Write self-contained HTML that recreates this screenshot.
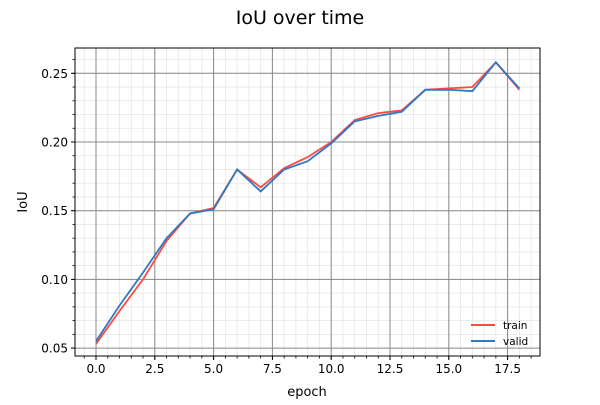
<!DOCTYPE html>
<html><head><meta charset="utf-8"><style>
body{margin:0;background:#fff;font-family:"Liberation Sans","DejaVu Sans",sans-serif;}
</style></head><body>
<svg id="chart" width="600" height="400" xmlns="http://www.w3.org/2000/svg" font-family="DejaVu Sans, Liberation Sans, sans-serif">
<rect width="600" height="400" fill="#fff"/>
<text x="300" y="24" text-anchor="middle" font-size="19">IoU over time</text>
<g id="grid"></g><g id="series"></g><g id="axes"></g>
<text x="307" y="396" text-anchor="middle" font-size="13">epoch</text>
<text x="27" y="202" text-anchor="middle" font-size="13" transform="rotate(-90 27 202)">IoU</text>
<g>
<line x1="471" y1="325" x2="495" y2="325" stroke="#ff4b3e" stroke-width="2"/>
<text x="503" y="329" font-size="10.5">train</text>
<line x1="471" y1="341" x2="495" y2="341" stroke="#2f78c4" stroke-width="2"/>
<text x="503" y="345" font-size="10.5">valid</text>
</g>
</svg>
<script>
const epochs=[0,1,2,3,4,5,6,7,8,9,10,11,12,13,14,15,16,17,18];
const trainIoU=[0.053,0.077,0.100,0.128,0.148,0.152,0.180,0.167,0.181,0.189,0.200,0.216,0.221,0.223,0.238,0.239,0.240,0.258,0.238];
const validIoU=[0.055,0.081,0.105,0.130,0.148,0.151,0.180,0.164,0.180,0.186,0.199,0.215,0.219,0.222,0.238,0.238,0.237,0.258,0.239];
const xTicks=[0,2.5,5,7.5,10,12.5,15,17.5];
const yTicks=[0.05,0.10,0.15,0.20,0.25];
const NS="http://www.w3.org/2000/svg";
const L=75,R=540,T=48,B=356;
const xs=v=>96+v*(58.8/2.5);
const ys=v=>73.3+(0.25-v)*(68.7/0.05);
function mk(tag,attrs,parent){const e=document.createElementNS(NS,tag);for(const k in attrs)e.setAttribute(k,attrs[k]);document.getElementById(parent).appendChild(e);return e;}
// minor grid
for(let v=-1;v<=19;v+=0.5){const x=xs(v);if(x<L||x>R)continue;const e=mk('line',{x1:x,x2:x,y1:T,y2:B,stroke:'#e6e6e6','stroke-width':0.8},'grid');

}
for(let i=0;i<=30;i++){const v=0.04+i*0.01;const y=ys(v);if(y<T||y>B)continue;const e=mk('line',{x1:L,x2:R,y1:y,y2:y,stroke:'#e6e6e6','stroke-width':0.8},'grid');


const t=mk('line',{x1:L-2.5,x2:L,y1:y,y2:y,stroke:'#000','stroke-width':0.8},'axes');

}
for(let v=-1;v<=19;v+=0.5){const x=xs(v);if(x<L||x>R)continue;const t=mk('line',{x1:x,x2:x,y1:B,y2:B+2.5,stroke:'#000','stroke-width':0.8},'axes');

}
xTicks.forEach(v=>{const x=xs(v);const g=mk('line',{x1:x,x2:x,y1:T,y2:B,stroke:'#888','stroke-width':1},'grid');


const t=mk('line',{x1:x,x2:x,y1:B,y2:B+4,stroke:'#000','stroke-width':1},'axes');


const l=mk('text',{x:x,y:B+17,'text-anchor':'middle','font-size':12},'axes');l.textContent=v.toFixed(1);

});
yTicks.forEach(v=>{const y=ys(v);const g=mk('line',{x1:L,x2:R,y1:y,y2:y,stroke:'#888','stroke-width':1},'grid');


const t=mk('line',{x1:L-4,x2:L,y1:y,y2:y,stroke:'#000','stroke-width':1},'axes');


const l=mk('text',{x:L-7,y:y+4.5,'text-anchor':'end','font-size':12},'axes');l.textContent=v.toFixed(2);

});
const frame=mk('rect',{x:L,y:T,width:R-L,height:B-T,fill:'none',stroke:'#000','stroke-width':1},'axes');


function line(data,color,name){const p=mk('polyline',{points:data.map((v,i)=>xs(epochs[i])+','+ys(v)).join(' '),fill:'none',stroke:color,'stroke-width':1.8},'series');

}
line(trainIoU,'#ff4b3e','train-line');
line(validIoU,'#2f78c4','valid-line');
</script>
</body></html>
